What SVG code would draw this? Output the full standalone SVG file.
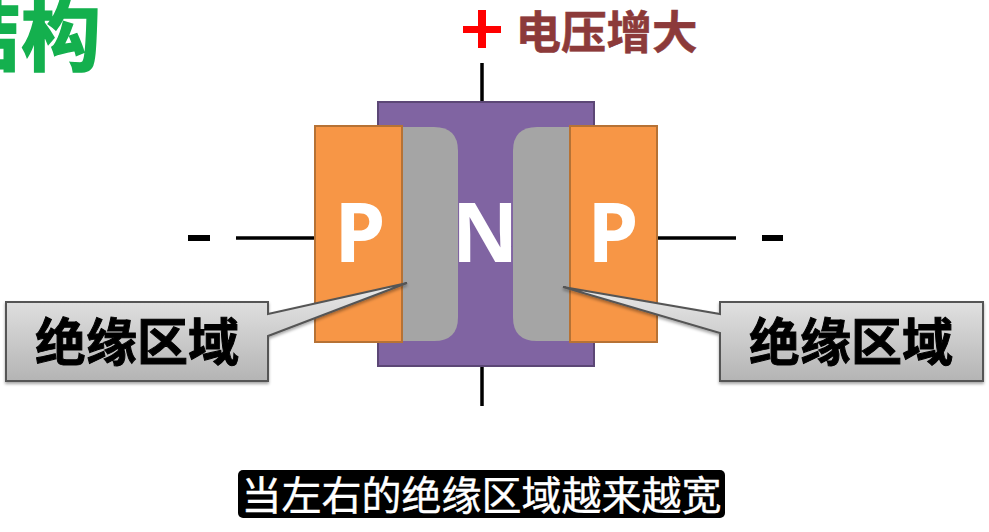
<svg xmlns="http://www.w3.org/2000/svg" width="989" height="532" viewBox="0 0 989 532">
<style>
.cjk{font-family:"Noto Sans CJK SC","Noto Sans",sans-serif;font-weight:700}
.lat{font-family:"Noto Sans","Open Sans",sans-serif;font-weight:700;fill:#fff;font-size:82px;text-anchor:middle}
.wire{stroke:#000;stroke-width:3.5;fill:none}
.orange{fill:#f79646;stroke:#b67235;stroke-width:2}
.gray{fill:#a5a5a5}
.call{fill:url(#cg);stroke:#555;stroke-width:2;filter:url(#sh)}
.calltext{font-size:51px;fill:#000;stroke:#000;stroke-width:1;text-anchor:middle}
</style>
<defs>
<linearGradient id="cg" x1="0" y1="0" x2="0" y2="1"><stop offset="0" stop-color="#e9e9e9"/><stop offset="1" stop-color="#b4b4b4"/></linearGradient>
<filter id="sh" x="-5%" y="-10%" width="110%" height="125%"><feDropShadow dx="0" dy="2" stdDeviation="1.5" flood-color="#000" flood-opacity=".35"/></filter>
</defs>
<rect width="989" height="532" fill="#fff"/>
<g id="title"><text class="cjk" x="101" y="64" font-size="80" fill="#14b04e" stroke="#14b04e" stroke-width="1.5" text-anchor="end">结构</text></g>
<g id="connectors">
<line class="wire" x1="482" y1="63" x2="482" y2="102"/>
<line class="wire" x1="482" y1="366" x2="482" y2="406"/>
<line class="wire" x1="236" y1="238" x2="315" y2="238"/>
<line class="wire" x1="657" y1="238" x2="736" y2="238"/>
</g>
<g id="plus"><rect x="463" y="26" width="38" height="7" fill="#f00"/><rect x="478" y="10" width="8" height="38" fill="#f00"/></g>
<g id="voltage-label"><text class="cjk" x="515.500" y="49" font-size="45.500" fill="#8c3a3a" stroke="#8c3a3a" stroke-width=".6">电压增大</text></g>
<g id="n-region"><rect x="378" y="102" width="216" height="264" fill="#8064a2" stroke="#5c4776" stroke-width="2"/></g>
<g id="p-left"><rect class="orange" x="315" y="126" width="87" height="216"/></g>
<g id="p-right"><rect class="orange" x="570" y="126" width="87" height="216"/></g>
<g id="insulation-left"><path class="gray" d="M403 127H434Q458 127 458 151V317Q458 341 434 341H403Z"/></g>
<g id="insulation-right"><path class="gray" d="M569 127H537Q513 127 513 151V317Q513 341 537 341H569Z"/></g>
<g id="p-left-label"><text class="lat" x="360" y="262">P</text></g>
<g id="n-label"><text class="lat" x="485" y="262">N</text></g>
<g id="p-right-label"><text class="lat" x="613" y="262">P</text></g>
<g id="minus-left"><rect x="188" y="235" width="22" height="6" fill="#000"/></g>
<g id="minus-right"><rect x="762" y="235" width="21" height="6" fill="#000"/></g>
<g id="callout-left">
<path class="call" d="M6 302H268V314L407 283L268 336V381H6Z"/>
<text class="cjk calltext" x="137" y="361">绝缘区域</text>
</g>
<g id="callout-right">
<path class="call" d="M720 302H983V381H720V333L563 287L720 314Z"/>
<text class="cjk calltext" x="851" y="361">绝缘区域</text>
</g>
<g id="subtitle">
<rect x="238" y="470" width="487" height="48" rx="5" fill="#000"/>
<text x="481.500" y="510" font-family="'Noto Sans CJK SC',sans-serif" font-weight="400" font-size="40" fill="#fff" stroke="#fff" stroke-width=".4" text-anchor="middle">当左右的绝缘区域越来越宽</text>
</g>
</svg>
